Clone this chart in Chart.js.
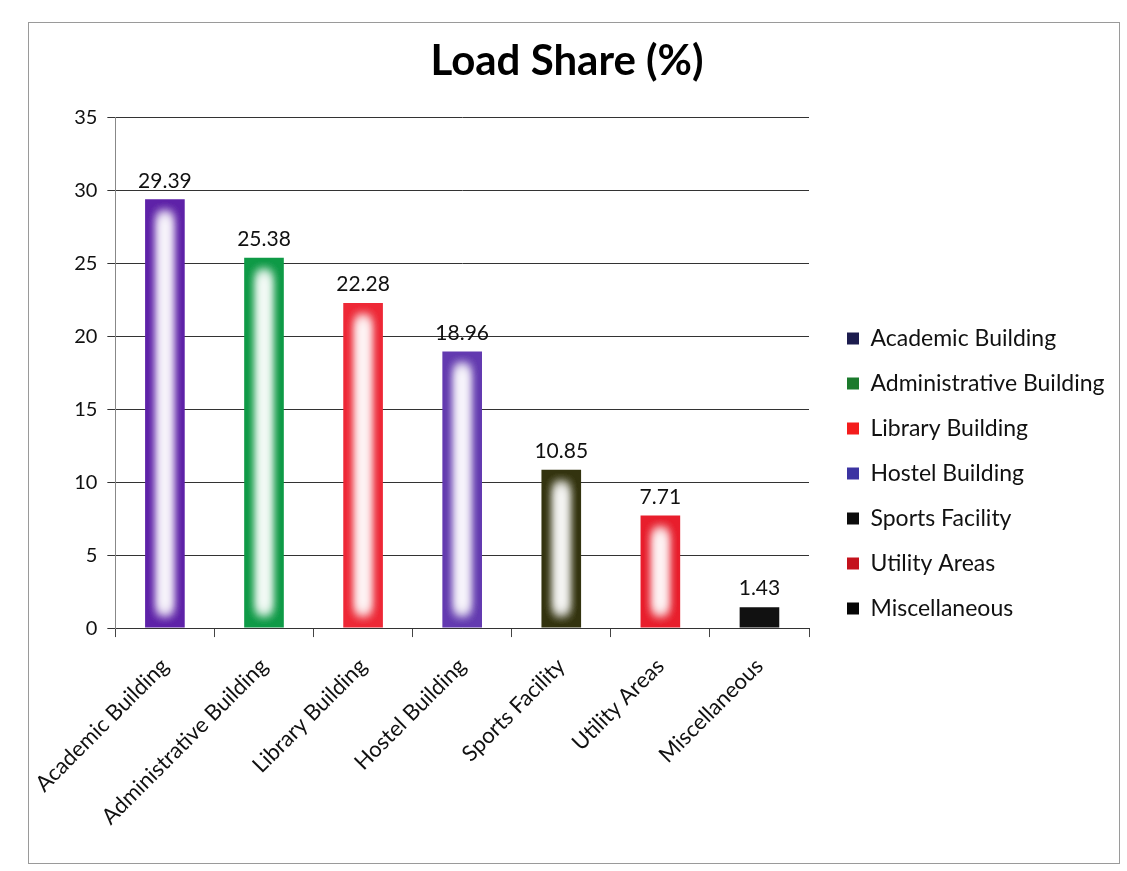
<!doctype html>
<html lang="en">
<head>
<meta charset="utf-8">
<title>Load Share (%)</title>
<script src="https://cdn.jsdelivr.net/npm/chart.js@4.4.0/dist/chart.umd.min.js"></script>
<style>
	body { margin: 0; background: #fff; }
	#frame { position: absolute; left: 28px; top: 22px; width: 1090px; height: 840px; border: 1px solid #9a9a9a; }
</style>
</head>
<body>
<div id="frame"><canvas id="bar" width="1090" height="840"></canvas></div>
<script>
// data
var categories = ['Academic Building', 'Administrative Building', 'Library Building', 'Hostel Building',
	'Sports Facility', 'Utility Areas', 'Miscellaneous'];
var loadShare = [29.39, 25.38, 22.28, 18.96, 10.85, 7.71, 1.43];
var barColors = ['#5e22a8', '#0e9a46', '#ee2836', '#633ab0', '#33330f', '#e81e2c', '#111111'];
var legendColors = ['#1c1c4e', '#1b7a2c', '#f41c1c', '#3c34a2', '#0c0c0c', '#c4121c', '#050505'];
var yMin = 0, yMax = 35, yStep = 5;

var font = 'Lato';
var legendGap = 16, legendDrop = 39, titleCenter = 538;

// soft white glow down the middle of each bar (shadow only, no hard core)
var glowPlugin = {
	id: 'glow',
	afterDatasetsDraw: function (chart) {
		var ctx = chart.ctx;
		var off = 5000;
		chart.getDatasetMeta(0).data.forEach(function (bar) {
			var w = bar.width, h = bar.base - bar.y;
			if (h < 40) return;
			ctx.save();
			ctx.beginPath();
			ctx.rect(bar.x - w / 2, bar.y, w, h);
			ctx.clip();
			ctx.shadowColor = 'rgba(255,255,255,1)';
			ctx.shadowBlur = 12;
			ctx.shadowOffsetX = off;
			ctx.fillStyle = '#fff';
			for (var k = 0; k < 4; k++) {
				ctx.fillRect(bar.x - w * 0.1 - off, bar.y + 15, w * 0.2, h - 30);
			}
			ctx.restore();
		});
	}
};

// value labels above bars
var valuePlugin = {
	id: 'values',
	afterDatasetsDraw: function (chart) {
		var ctx = chart.ctx;
		ctx.save();
		ctx.font = '21px ' + font;
		ctx.fillStyle = '#111';
		ctx.textAlign = 'center';
		ctx.textBaseline = 'bottom';
		chart.getDatasetMeta(0).data.forEach(function (bar, i) {
			ctx.fillText(loadShare[i].toFixed(2), bar.x, bar.y - 8);
		});
		ctx.restore();
	}
};

// nudge legend and title boxes after layout
var boxShift = {
	id: 'boxShift',
	afterLayout: function (chart) {
		var lg = chart.legend;
		lg.left += legendGap;
		lg.right = chart.width;
		lg.width = lg.right - lg.left;
		lg.top += legendDrop;
		lg.bottom += legendDrop;
		var tb = chart.titleBlock;
		var half = Math.min(titleCenter, chart.width - titleCenter);
		tb.left = titleCenter - half;
		tb.right = titleCenter + half;
		tb.width = tb.right - tb.left;
	}
};

var config = {
	type: 'bar',
	data: {
		labels: categories,
		datasets: [{
			data: loadShare,
			backgroundColor: barColors,
			borderWidth: 0,
			barPercentage: 0.4,
			categoryPercentage: 1
		}]
	},
	options: {
		responsive: false,
		animation: false,
		layout: { padding: { left: 0, right: 50, top: 0, bottom: 17 } },
		plugins: {
			title: {
				display: true, text: 'Load Share (%)', color: '#000',
				font: { family: font, size: 42, weight: 'bold' },
				padding: { top: 13, bottom: 31 }
			},
			legend: {
				position: 'right', align: 'center', onClick: null,
				labels: {
					boxWidth: 12, boxHeight: 12, padding: 22, color: '#111',
					font: { family: font, size: 23 },
					generateLabels: function () {
						return categories.map(function (c, i) {
							return { text: c, fillStyle: legendColors[i], strokeStyle: legendColors[i],
								lineWidth: 0, fontColor: '#111', index: i };
						});
					}
				}
			},
			tooltip: { enabled: false }
		},
		scales: {
			x: {
				// let the first slanted label hang a little further left
				afterFit: function (scale) { scale.paddingLeft = Math.max(0, scale.paddingLeft - 10); },
				grid: { display: true, drawOnChartArea: false, tickLength: 9, color: '#444' },
				border: { color: '#333' },
				ticks: { maxRotation: 45, minRotation: 45, padding: 16, color: '#111', font: { family: font, size: 22 } }
			},
			y: {
				min: yMin, max: yMax,
				ticks: { stepSize: yStep, color: '#111', padding: 10, font: { family: font, size: 20 } },
				grid: { color: '#333', tickLength: 8 },
				border: { color: '#888' }
			}
		}
	},
	plugins: [glowPlugin, valuePlugin, boxShift]
};

new Chart(document.getElementById('bar').getContext('2d'), config);
</script>
</body>
</html>
